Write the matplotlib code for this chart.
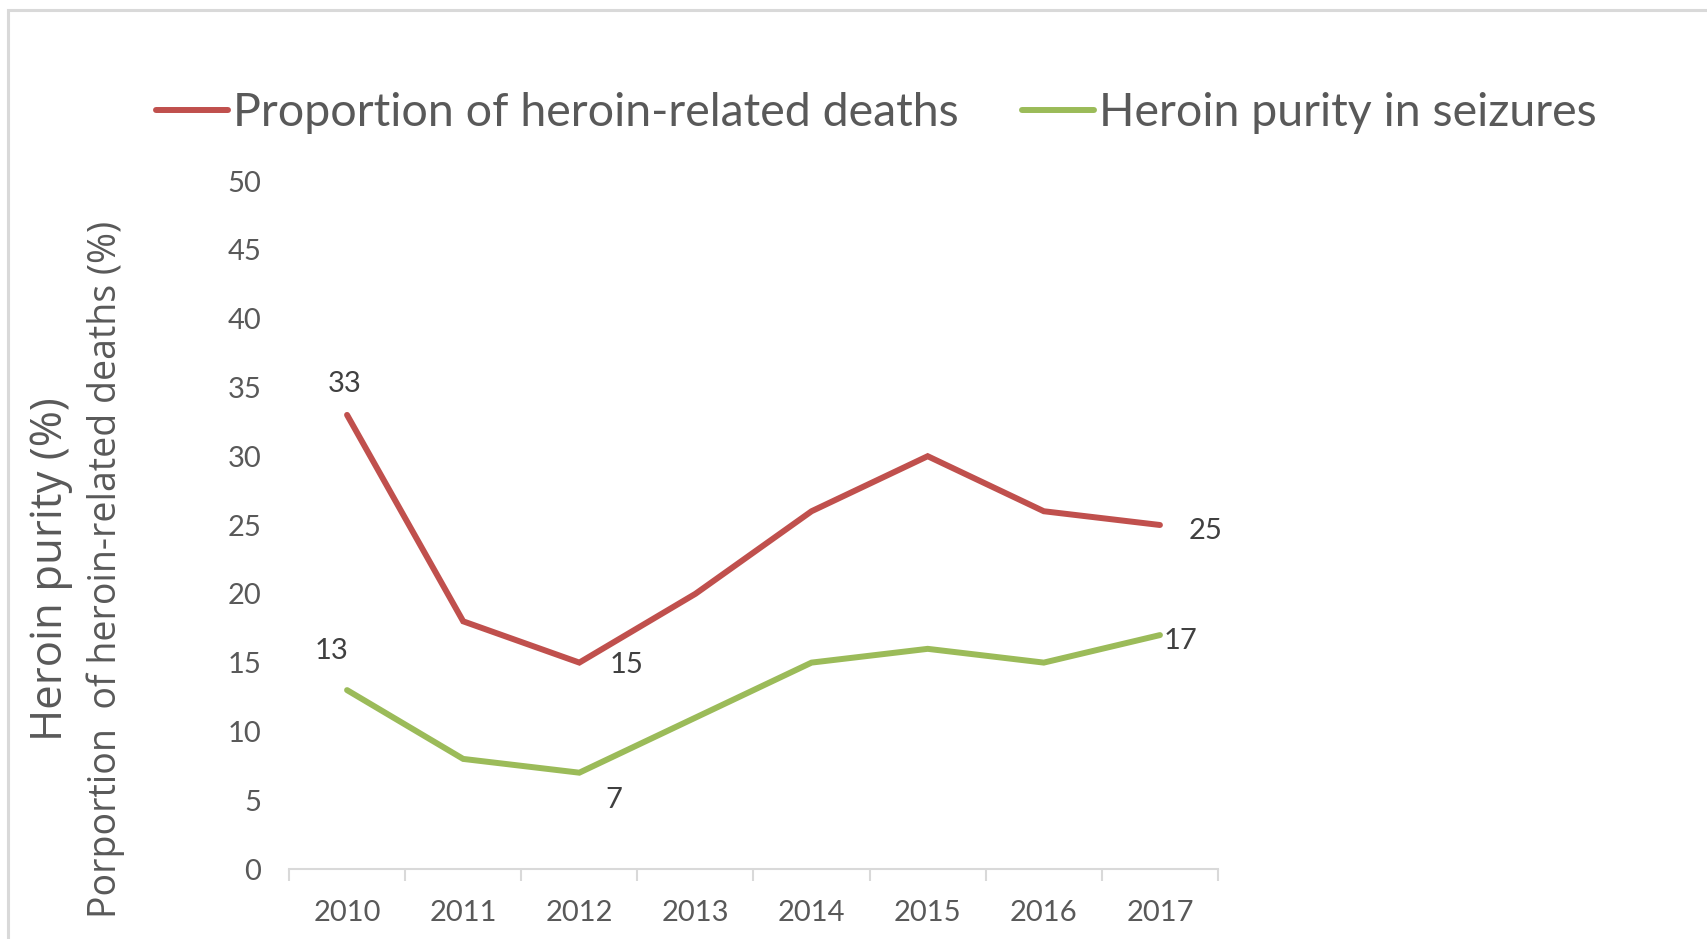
import numpy as np
import matplotlib.pyplot as plt
from matplotlib.patches import Rectangle

# data #
years = ['2010', '2011', '2012', '2013', '2014', '2015', '2016', '2017']
deaths = [33, 18, 15, 20, 26, 30, 26, 25]
purity = [13, 8, 7, 11, 15, 16, 15, 17]

# which points get a value label, and offset in points (dx, dy)
death_labels = {0: (-2, 22), 2: (34, -2), 7: (33, -4)}
purity_labels = {0: (-11, 28), 2: (25, -20), 7: (15, -4)}

red = '#C0504D'
green = '#9BBB59'
grey_txt = '#595959'
axis_col = '#D9D9D9'

plt.rcParams['font.family'] = ['Lato', 'DejaVu Sans']

W, H = 1708, 939
fig = plt.figure(figsize=(W/100, H/100), dpi=100)
ax = fig.add_axes([289/W, 1-869/H, (1218-289)/W, (869-181)/H])

x = np.arange(len(years))
ax.plot(x, deaths, color=red, lw=4.3, solid_capstyle='round', solid_joinstyle='miter', label='Proportion of heroin-related deaths')
ax.plot(x, purity, color=green, lw=4.3, solid_capstyle='round', solid_joinstyle='miter', label='Heroin purity in seizures')

for i, (dx, dy) in death_labels.items():
    ax.annotate(str(deaths[i]), (x[i], deaths[i]), xytext=(dx, dy), textcoords='offset points',
                ha='center', va='center', fontsize=21, color='#404040')
for i, (dx, dy) in purity_labels.items():
    ax.annotate(str(purity[i]), (x[i], purity[i]), xytext=(dx, dy), textcoords='offset points',
                ha='center', va='center', fontsize=21, color='#404040')

ax.set_xlim(-0.5, len(years)-0.5)
ax.set_ylim(0, 50)
ax.set_yticks(np.arange(0, 51, 5))
ax.set_xticks(x)
ax.set_xticklabels(years)
ax.set_xticks(np.arange(-0.5, len(years), 1), minor=True)
ax.tick_params(axis='x', which='major', length=0, pad=22, labelsize=21, labelcolor=grey_txt)
ax.tick_params(axis='x', which='minor', length=8.6, width=1.5, color=axis_col)
ax.tick_params(axis='y', length=0, pad=20, labelsize=21, labelcolor=grey_txt)
for s in ['top', 'right', 'left']:
    ax.spines[s].set_visible(False)
ax.spines['bottom'].set_color(axis_col)
ax.spines['bottom'].set_linewidth(1.5)

# axis titles, stacked
fig.text(51/W, 1-569/H, 'Heroin purity (%)', rotation=90, ha='center', va='center',
         fontsize=31.5, color=grey_txt, family=['Open Sans', 'DejaVu Sans'])
fig.text(106/W, 1-569/H, 'Porportion  of heroin-related deaths (%)', rotation=90, ha='center', va='center',
         fontsize=27, color=grey_txt, family=['Open Sans', 'DejaVu Sans'])

leg = fig.legend(loc='center left', bbox_to_anchor=(156/W, 1-113/H), ncol=2, frameon=False,
                 fontsize=33.5, handlelength=1.55, handletextpad=0.1, columnspacing=1.36,
                 borderpad=0, borderaxespad=0)
for t in leg.get_texts():
    t.set_color(grey_txt)

# frame of the chart area (only top/left visible)
fig.add_artist(Rectangle((8/W, -0.1), 1.2, 1.1-10/H, transform=fig.transFigure,
                         fill=False, edgecolor=axis_col, lw=2.2))

plt.savefig('out.png', dpi=100)
